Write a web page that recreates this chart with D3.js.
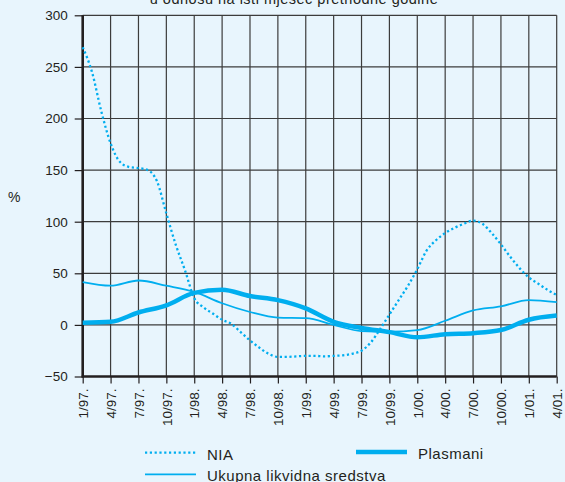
<!DOCTYPE html>
<html>
<head>
<meta charset="utf-8">
<script src="https://cdn.jsdelivr.net/npm/d3@7"></script>
<style>
  body { margin: 0; background: #e8f5fd; }
  svg { display: block; font-family: 'Liberation Sans', Arial, sans-serif; }
</style>
</head>
<body>
<svg id="chart" width="565" height="482"></svg>
<script>
"use strict"

// Tick labels
const quarters = ['1/97.', '4/97.', '7/97.', '10/97.', '1/98.', '4/98.', '7/98.', '10/98.',
  '1/99.', '4/99.', '7/99.', '10/99.', '1/00.', '4/00.', '7/00.', '10/00.', '1/01.', '4/01.']
const yTicks = [-50, 0, 50, 100, 150, 200, 250, 300]

// NIA, monthly 1/97. - 4/01.
const nia = [269, 245, 207, 176, 158, 153, 152, 150, 139, 108, 78, 53,
  26, 17, 11, 5, 1, -7, -15, -22, -28, -31, -31, -30.5,
  -30, -30, -30.5, -30, -29.5, -28, -25, -17, -4, 10, 24, 38,
  54, 72, 82, 89, 94, 98, 101, 98, 89, 78, 66, 55,
  46, 40, 34, 29]
// Plasmani, quarterly
const plasmani = [2, 3, 12, 19, 31, 34, 28, 24, 16, 3, -3, -7, -12, -9, -8, -5, 5, 9]
// Ukupna likvidna sredstva, quarterly
const likvidna = [41.5, 38, 43, 38, 32, 21, 12.5, 7, 6.5, 0, -6, -6.5, -5, 4, 14, 18, 24, 22]

const blue = '#00aeef'
const ink = '#231f20'

const svg = d3.select('#chart')

const x = d3.scaleLinear().domain([0, 51]).range([82.7, 556.7])
const y = d3.scaleLinear().domain([-50, 300]).range([376.5, 15.3])

// Title (cut off at the top, as in the original)
svg.append('text')
  .attr('x', 294).attr('y', 4)
  .attr('text-anchor', 'middle')
  .attr('font-size', 14.5)
  .attr('letter-spacing', 0.5)
  .attr('fill', ink)
  .text('u odnosu na isti mjesec prethodne godine')

// Grid
const grid = svg.append('g')
  .attr('stroke', '#3c3c3c')
  .attr('stroke-width', 1.2)
grid.selectAll('.hline')
  .data(yTicks)
  .enter().append('line')
    .attr('x1', x(0)).attr('x2', x(51))
    .attr('y1', d => y(d)).attr('y2', d => y(d))
grid.selectAll('.vline')
  .data(d3.range(0, 52, 3))
  .enter().append('line')
    .attr('x1', d => x(d)).attr('x2', d => x(d))
    .attr('y1', y(300)).attr('y2', y(-50))

// Axes
const yAxis = svg.append('g')
  .attr('transform', `translate(${x(0)},0)`)
  .call(d3.axisLeft(y).tickValues(yTicks).tickSize(8).tickPadding(7)
    .tickFormat(d => d < 0 ? '\u2212' + Math.abs(d) : d))
yAxis.select('.domain').remove()
yAxis.selectAll('line').attr('stroke', ink).attr('stroke-width', 1.2)
yAxis.selectAll('text').attr('font-size', 13.5).attr('fill', ink).attr('font-family', null)

const xAxis = svg.append('g')
  .attr('transform', `translate(0,${y(-50)})`)
  .call(d3.axisBottom(x).tickValues(d3.range(0, 52, 3)).tickSize(7)
    .tickFormat(d => quarters[d / 3]))
xAxis.select('.domain').remove()
xAxis.selectAll('line').attr('stroke', ink).attr('stroke-width', 1.2)
xAxis.selectAll('text')
  .attr('font-size', 13.5).attr('fill', ink).attr('font-family', null)
  .attr('text-anchor', 'end')
  .attr('transform', 'rotate(-90)')
  .attr('x', -12).attr('y', 0).attr('dy', '0.35em')

// Heavy left and bottom axis lines
svg.append('line')
  .attr('x1', x(0)).attr('x2', x(0))
  .attr('y1', y(300)).attr('y2', y(-50) + 1)
  .attr('stroke', ink).attr('stroke-width', 2.6)
svg.append('line')
  .attr('x1', x(0) - 1).attr('x2', x(51))
  .attr('y1', y(-50)).attr('y2', y(-50))
  .attr('stroke', ink).attr('stroke-width', 2.6)

svg.append('text')
  .attr('x', 8).attr('y', 202)
  .attr('font-size', 14).attr('fill', ink)
  .text('%')

// Series
const line = d3.line()
  .x(d => x(d[0])).y(d => y(d[1]))
  .curve(d3.curveMonotoneX)

const series = [
  { pts: nia.map((v, i) => [i, v]), width: 2.3, dash: '2.2,2.6' },
  { pts: likvidna.map((v, i) => [i * 3, v]), width: 1.8, dash: null },
  { pts: plasmani.map((v, i) => [i * 3, v]), width: 4.5, dash: null }
]
svg.selectAll('.series')
  .data(series)
  .enter().append('path')
    .attr('class', 'series')
    .attr('d', d => line(d.pts))
    .attr('fill', 'none')
    .attr('stroke', blue)
    .attr('stroke-width', d => d.width)
    .attr('stroke-dasharray', d => d.dash)

// Legend
const legend = [
  { name: 'NIA', x: 145, y: 452.7, width: 2.3, dash: '2.2,2.6' },
  { name: 'Plasmani', x: 356, y: 452, width: 4.5, dash: null },
  { name: 'Ukupna likvidna sredstva', x: 145, y: 474.3, width: 1.8, dash: null }
]
const legend_items = svg.selectAll('.legend')
  .data(legend)
  .enter().append('g')
    .attr('class', 'legend')
    .attr('transform', d => `translate(${d.x},${d.y})`)
legend_items.append('line')
  .attr('x1', 0).attr('x2', 51)
  .attr('stroke', blue)
  .attr('stroke-width', d => d.width)
  .attr('stroke-dasharray', d => d.dash)
legend_items.append('text')
  .attr('x', 62).attr('y', 7)
  .attr('font-size', 15)
  .attr('letter-spacing', 0.5)
  .attr('fill', ink)
  .text(d => d.name)
</script>
</body>
</html>
